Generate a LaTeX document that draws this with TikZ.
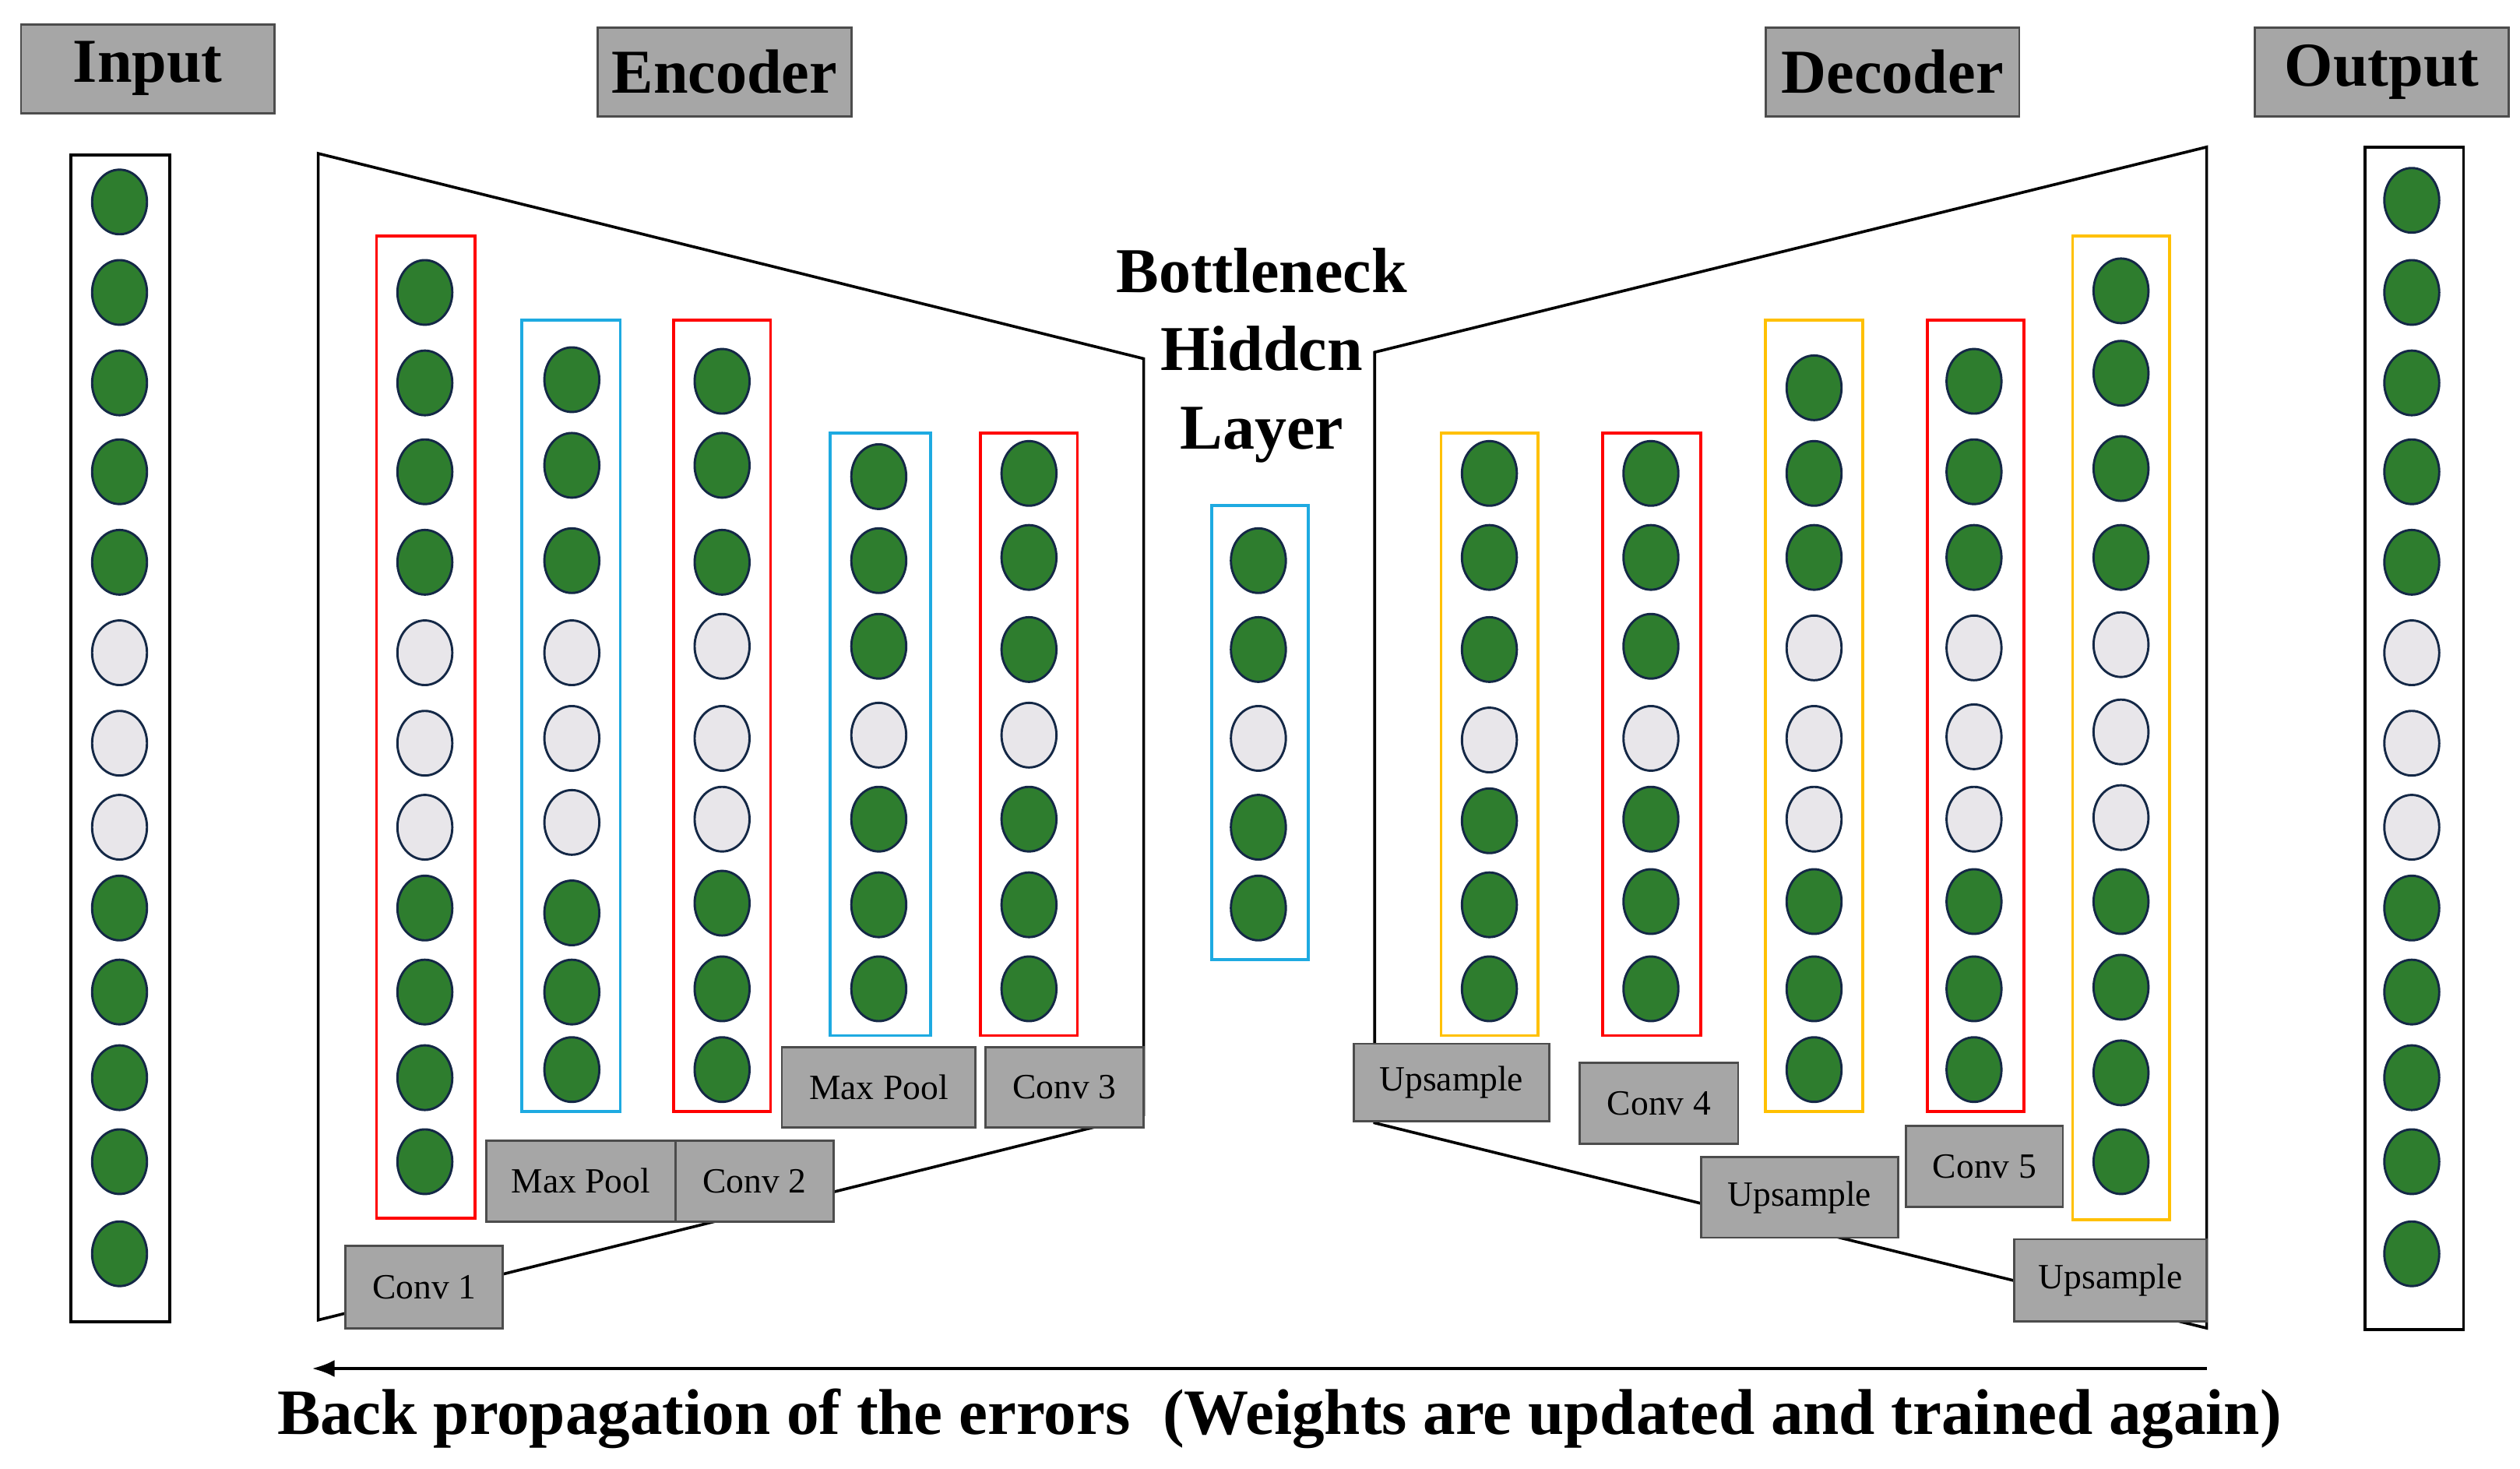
\documentclass[tikz,border=0pt]{standalone}
\usepackage{fontspec}
\setmainfont{Liberation Serif}
\usetikzlibrary{arrows.meta,shapes.geometric}
\definecolor{gr}{RGB}{46,125,46}
\definecolor{lt}{RGB}{232,230,234}
\definecolor{ed}{RGB}{20,40,70}
\definecolor{bx}{RGB}{166,166,166}
\definecolor{cy}{RGB}{30,170,225}
\definecolor{yl}{RGB}{255,192,0}
\begin{document}
\begin{tikzpicture}[x=0.02cm,y=-0.02cm,
 G/.style={ellipse,draw=ed,line width=0.8pt,fill=gr,minimum width=34*0.02cm,minimum height=40*0.02cm,inner sep=0},
 L/.style={G,fill=lt},
 title/.style={draw=black!70,fill=bx,line width=0.8pt,font=\fontsize{22}{24}\selectfont\bfseries,inner sep=0},
 lab/.style={draw=black!70,fill=bx,line width=0.8pt,font=\fontsize{12.5}{14}\selectfont,inner sep=0},
 colbox/.style={line width=1pt}]
\useasboundingbox (0,0) rectangle (1560,909);
% titles
\node[title,minimum width=157*0.02cm,minimum height=55*0.02cm] (tin) at (91.5,42.5) {Input};
\node[title,minimum width=157*0.02cm,minimum height=55*0.02cm] (tenc) at (448.5,44.5) {Encoder};
\node[title,minimum width=157*0.02cm,minimum height=55*0.02cm] (tdec) at (1171.5,44.5) {Decoder};
\node[title,minimum width=157*0.02cm,minimum height=55*0.02cm] (tout) at (1474.5,44.5) {Output};
% trapezoids
\draw[line width=1pt] (197,95) -- (708,222) -- (708,690) -- (197,817) -- cycle;
\draw[line width=1pt] (851,218) -- (1366,91) -- (1366,822) -- (851,695) -- cycle;
% input / output
\draw[line width=1pt] (44,96) rectangle (105,818);
\foreach \yy/\s in {125/G,181/G,237/G,292/G,348/G,404/L,460/L,512/L,562/G,614/G,667/G,719/G,776/G}
  \node[\s] (in\yy) at (74,\yy) {};
\draw[line width=1pt] (1464,91) rectangle (1525,823);
\foreach \yy/\s in {124/G,181/G,237/G,292/G,348/G,404/L,460/L,512/L,562/G,614/G,667/G,719/G,776/G}
  \node[\s] (out\yy) at (1493,\yy) {};
% columns
\draw[colbox,red] (233,146) rectangle (294,754);
\foreach \yy/\s in {181/G,237/G,292/G,348/G,404/L,460/L,512/L,562/G,614/G,667/G,719/G}
  \node[\s] (c1\yy) at (263,\yy) {};
\draw[colbox,cy] (323,198) rectangle (384,688);
\foreach \yy/\s in {235/G,288/G,347/G,404/L,457/L,509/L,565/G,614/G,662/G}
  \node[\s] (m1\yy) at (354,\yy) {};
\draw[colbox,red] (417,198) rectangle (477,688);
\foreach \yy/\s in {236/G,288/G,348/G,400/L,457/L,507/L,559/G,612/G,662/G}
  \node[\s] (c2\yy) at (447,\yy) {};
\draw[colbox,cy] (514,268) rectangle (576,641);
\foreach \yy/\s in {295/G,347/G,400/G,455/L,507/G,560/G,612/G}
  \node[\s] (m2\yy) at (544,\yy) {};
\draw[colbox,red] (607,268) rectangle (667,641);
\foreach \yy/\s in {293/G,345/G,402/G,455/L,507/G,560/G,612/G}
  \node[\s] (c3\yy) at (637,\yy) {};
\draw[colbox,cy] (750,313) rectangle (810,594);
\foreach \yy/\s in {347/G,402/G,457/L,512/G,562/G}
  \node[\s] (b\yy) at (779,\yy) {};
\draw[colbox,yl] (892,268) rectangle (952,641);
\foreach \yy/\s in {293/G,345/G,402/G,458/L,508/G,560/G,612/G}
  \node[\s] (u1\yy) at (922,\yy) {};
\draw[colbox,red] (992,268) rectangle (1053,641);
\foreach \yy/\s in {293/G,345/G,400/G,457/L,507/G,558/G,612/G}
  \node[\s] (c4\yy) at (1022,\yy) {};
\draw[colbox,yl] (1093,198) rectangle (1153,688);
\foreach \yy/\s in {240/G,293/G,345/G,401/L,457/L,507/L,558/G,612/G,662/G}
  \node[\s] (u2\yy) at (1123,\yy) {};
\draw[colbox,red] (1193,198) rectangle (1253,688);
\foreach \yy/\s in {236/G,292/G,345/G,401/L,456/L,507/L,558/G,612/G,662/G}
  \node[\s] (c5\yy) at (1222,\yy) {};
\draw[colbox,yl] (1283,146) rectangle (1343,755);
\foreach \yy/\s in {180/G,231/G,290/G,345/G,399/L,453/L,506/L,558/G,611/G,664/G,719/G}
  \node[\s] (u3\yy) at (1313,\yy) {};
% labels
\node[lab,minimum width=97*0.02cm,minimum height=51*0.02cm] (l1) at (262.5,796.5) {Conv 1};
\node[lab,minimum width=117*0.02cm,minimum height=50*0.02cm] (l2) at (359.5,731) {Max Pool};
\node[lab,minimum width=98*0.02cm,minimum height=50*0.02cm] (l3) at (467,731) {Conv 2};
\node[lab,minimum width=120*0.02cm,minimum height=50*0.02cm] (l4) at (544,673) {Max Pool};
\node[lab,minimum width=98*0.02cm,minimum height=50*0.02cm] (l5) at (659,673) {Conv 3};
\node[lab,minimum width=121*0.02cm,minimum height=48*0.02cm] (l6) at (898.5,670) {Upsample};
\node[lab,minimum width=98*0.02cm,minimum height=50*0.02cm] (l7) at (1027,683) {Conv 4};
\node[lab,minimum width=122*0.02cm,minimum height=50*0.02cm] (l8) at (1114,741) {Upsample};
\node[lab,minimum width=97*0.02cm,minimum height=50*0.02cm] (l9) at (1228.5,722) {Conv 5};
\node[lab,minimum width=119*0.02cm,minimum height=51*0.02cm] (l10) at (1306.5,792.5) {Upsample};
% bottleneck text
\node[font=\fontsize{22.5}{27.5}\selectfont\bfseries,align=center] (bt) at (781,220) {Bottleneck\\Hiddcn\\Layer};
% arrow
\coordinate (ar1) at (1366,847);
\coordinate (ar2) at (193,847);
\draw[line width=1.2pt,-{Latex[length=8pt,width=6pt]}] (ar1) -- (ar2);
\node[font=\fontsize{22.8}{24}\selectfont\bfseries] (bp) at (792,878) {Back propagation of the errors\ \ (Weights are updated and trained again)};
\end{tikzpicture}
\end{document}
